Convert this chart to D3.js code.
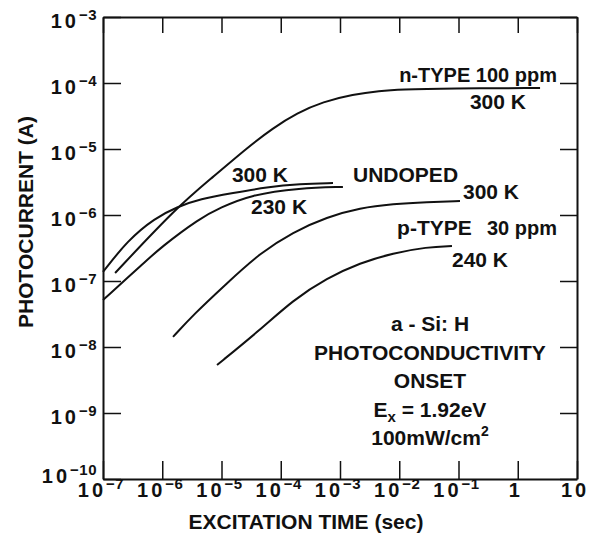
<!DOCTYPE html>
<html>
<head>
<meta charset="utf-8">
<script src="https://cdn.jsdelivr.net/npm/d3@7"></script>
<style>
  body { margin: 0; background: #fff; }
  svg text { font-family: "Liberation Sans", Arial, sans-serif; font-weight: bold; fill: #111; }
  .axis .domain { stroke: #111; stroke-width: 2; }
  .axis .tick line { stroke: #111; stroke-width: 1.5; }
  .curve { fill: none; stroke: #111; stroke-width: 2; }
</style>
</head>
<body>
<svg id="chart" width="592" height="533"></svg>
<script>
// excitation time (sec) and photocurrent (A)
var nType300Time = [1.6e-7, 1.77e-6, 7.2e-6, 2.69e-5, 7.4e-5, 1.88e-4, 5.16e-4, 1.66e-3, 4.73e-3, 1.03e-2, 7.2e-2, 2.38];
var nType300Curr = [1.32e-7, 1.32e-6, 3.77e-6, 1.04e-5, 2.08e-5, 3.51e-5, 5.2e-5, 6.7e-5, 7.6e-5, 7.98e-5, 8.26e-5, 8.4e-5];

var undoped300Time = [1e-7, 2.64e-7, 7.55e-7, 1.77e-6, 4.34e-6, 1.56e-5, 5.86e-5, 2.11e-4, 7.62e-4];
var undoped300Curr = [1.37e-7, 4.18e-7, 9.0e-7, 1.32e-6, 1.75e-6, 2.15e-6, 2.65e-6, 2.95e-6, 3.05e-6];

var undoped230Time = [1e-7, 5.12e-7, 9.16e-7, 4.34e-6, 9.44e-6, 3.03e-5, 2.11e-4, 1.12e-3];
var undoped230Curr = [5.15e-8, 1.94e-7, 3.16e-7, 9.0e-7, 1.28e-6, 2.01e-6, 2.57e-6, 2.66e-6];

var pType300Time = [1.52e-6, 3.3e-6, 1.24e-5, 4.47e-5, 1.61e-4, 6.04e-4, 2.18e-3, 7.85e-3, 2.94e-2, 1.06e-1];
var pType300Curr = [1.42e-8, 3.05e-8, 9.3e-8, 2.65e-7, 5.52e-7, 9.33e-7, 1.28e-6, 1.47e-6, 1.57e-6, 1.63e-6];

var pType240Time = [8.4e-6, 4.47e-5, 1.61e-4, 6.04e-4, 2.18e-3, 7.85e-3, 2.94e-2, 7.76e-2];
var pType240Curr = [5.34e-9, 1.81e-8, 5.15e-8, 1.11e-7, 1.88e-7, 2.65e-7, 3.27e-7, 3.39e-7];

var xTicks = [1e-7, 1e-6, 1e-5, 1e-4, 1e-3, 1e-2, 1e-1, 1, 10];
var xTickLabels = [["10", "\u22127"], ["10", "\u22126"], ["10", "\u22125"], ["10", "\u22124"], ["10", "\u22123"],
                   ["10", "\u22122"], ["10", "\u22121"], ["1", ""], ["10", ""]];
var yTicks = [1e-10, 1e-9, 1e-8, 1e-7, 1e-6, 1e-5, 1e-4, 1e-3];
var yTickLabels = [["10", "\u221210"], ["10", "\u22129"], ["10", "\u22128"], ["10", "\u22127"],
                   ["10", "\u22126"], ["10", "\u22125"], ["10", "\u22124"], ["10", "\u22123"]];

var width = 592, height = 533;
var margin = {top: 17, right: 15, bottom: 54, left: 103};

var svg = d3.select("#chart");

var x = d3.scaleLog().domain([1e-7, 10]).range([margin.left, width - margin.right]);
var y = d3.scaleLog().domain([1e-10, 1e-3]).range([height - margin.bottom, margin.top]);

var x0 = x.range()[0], x1 = x.range()[1], y0 = y.range()[0], y1 = y.range()[1];

// frame + inward ticks on all four sides
svg.append("g").attr("class", "axis").attr("transform", "translate(0," + y0 + ")")
  .call(d3.axisBottom(x).tickValues(xTicks).tickSizeInner(-18).tickSizeOuter(0).tickFormat(""));
svg.append("g").attr("class", "axis").attr("transform", "translate(0," + y1 + ")")
  .call(d3.axisTop(x).tickValues(xTicks).tickSizeInner(-16).tickSizeOuter(0).tickFormat(""));
svg.append("g").attr("class", "axis").attr("transform", "translate(" + x0 + ",0)")
  .call(d3.axisLeft(y).tickValues(yTicks).tickSizeInner(-18).tickSizeOuter(0).tickFormat(""));
svg.append("g").attr("class", "axis").attr("transform", "translate(" + x1 + ",0)")
  .call(d3.axisRight(y).tickValues(yTicks).tickSizeInner(-17).tickSizeOuter(0).tickFormat(""));
svg.selectAll(".axis text").remove();

// power-of-ten labels with superscripts
function powerLabel(sel, parts) {
  sel.append("tspan").style("letter-spacing", "3px").text(parts[0]);
  if (parts[1]) {
    sel.append("tspan").attr("dy", -8).style("font-size", "15px").style("letter-spacing", "0.5px").text(parts[1]);
  }
}

svg.append("g").selectAll("text").data(xTicks).join("text")
  .attr("x", function(d) { return x(d) - 2; })
  .attr("y", y0 + 18)
  .attr("text-anchor", "middle")
  .style("font-size", "20px")
  .each(function(d, i) { powerLabel(d3.select(this), xTickLabels[i]); });

svg.append("g").selectAll("text").data(yTicks).join("text")
  .attr("x", x0 - 6)
  .attr("y", function(d) { return y(d) + (d === 1e-10 ? 4 : 11); })
  .attr("text-anchor", "end")
  .style("font-size", "20px")
  .each(function(d, i) { powerLabel(d3.select(this), yTickLabels[i]); });

// axis titles
svg.append("text")
  .attr("x", (x0 + x1) / 2 - 34).attr("y", 529)
  .attr("text-anchor", "middle")
  .style("font-size", "21px")
  .text("EXCITATION TIME (sec)");

svg.append("text")
  .attr("transform", "translate(33," + 222 + ") rotate(-90)")
  .attr("text-anchor", "middle")
  .style("font-size", "21px")
  .text("PHOTOCURRENT (A)");

// curves
var series = [
  [nType300Time, nType300Curr],
  [undoped300Time, undoped300Curr],
  [undoped230Time, undoped230Curr],
  [pType300Time, pType300Curr],
  [pType240Time, pType240Curr]
];

var line = d3.line()
  .x(function(d) { return x(d[0]); })
  .y(function(d) { return y(d[1]); })
  .curve(d3.curveBasis);

svg.append("g").selectAll("path").data(series).join("path")
  .attr("class", "curve")
  .attr("d", function(s) { return line(d3.zip(s[0], s[1])); });

// curve labels, placed in data units
var labels = [
  {text: "n-TYPE 100 ppm", t: 4.59, i: 1.035e-4, anchor: "end", size: 20},
  {text: "300 K", t: 0.156, i: 4.04e-5, anchor: "start", size: 21},
  {text: "300 K", t: 1.5e-5, i: 3.16e-6, anchor: "start", size: 21},
  {text: "230 K", t: 3.15e-5, i: 1.04e-6, anchor: "start", size: 21},
  {text: "UNDOPED", t: 1.66e-3, i: 3.16e-6, anchor: "start", size: 21},
  {text: "300 K", t: 0.119, i: 1.75e-6, anchor: "start", size: 21},
  {text: "p-TYPE", t: 9.2e-3, i: 4.98e-7, anchor: "start", size: 21},
  {text: "30 ppm", t: 4.59, i: 4.98e-7, anchor: "end", size: 20},
  {text: "240 K", t: 7.76e-2, i: 1.63e-7, anchor: "start", size: 21}
];

svg.append("g").selectAll("text").data(labels).join("text")
  .attr("x", function(d) { return x(d.t); })
  .attr("y", function(d) { return y(d.i); })
  .attr("text-anchor", function(d) { return d.anchor; })
  .style("font-size", function(d) { return d.size + "px"; })
  .text(function(d) { return d.text; });

// annotation block
var noteX = 3.3e-2;
var note = svg.append("g").attr("text-anchor", "middle").style("font-size", "21px");
note.append("text").attr("x", x(noteX)).attr("y", y(1.75e-8)).text("a - Si: H");
note.append("text").attr("x", x(noteX)).attr("y", y(6.36e-9)).text("PHOTOCONDUCTIVITY");
note.append("text").attr("x", x(noteX)).attr("y", y(2.39e-9)).text("ONSET");
var ex = note.append("text").attr("x", x(noteX)).attr("y", y(8.7e-10));
ex.append("tspan").text("E");
ex.append("tspan").attr("dy", 5).style("font-size", "15px").text("x");
ex.append("tspan").attr("dy", -5).text(" = 1.92eV");
var pw = note.append("text").attr("x", x(noteX)).attr("y", y(3.27e-10));
pw.append("tspan").text("100mW/cm");
pw.append("tspan").attr("dy", -9).style("font-size", "14px").text("2");
</script>
</body>
</html>
